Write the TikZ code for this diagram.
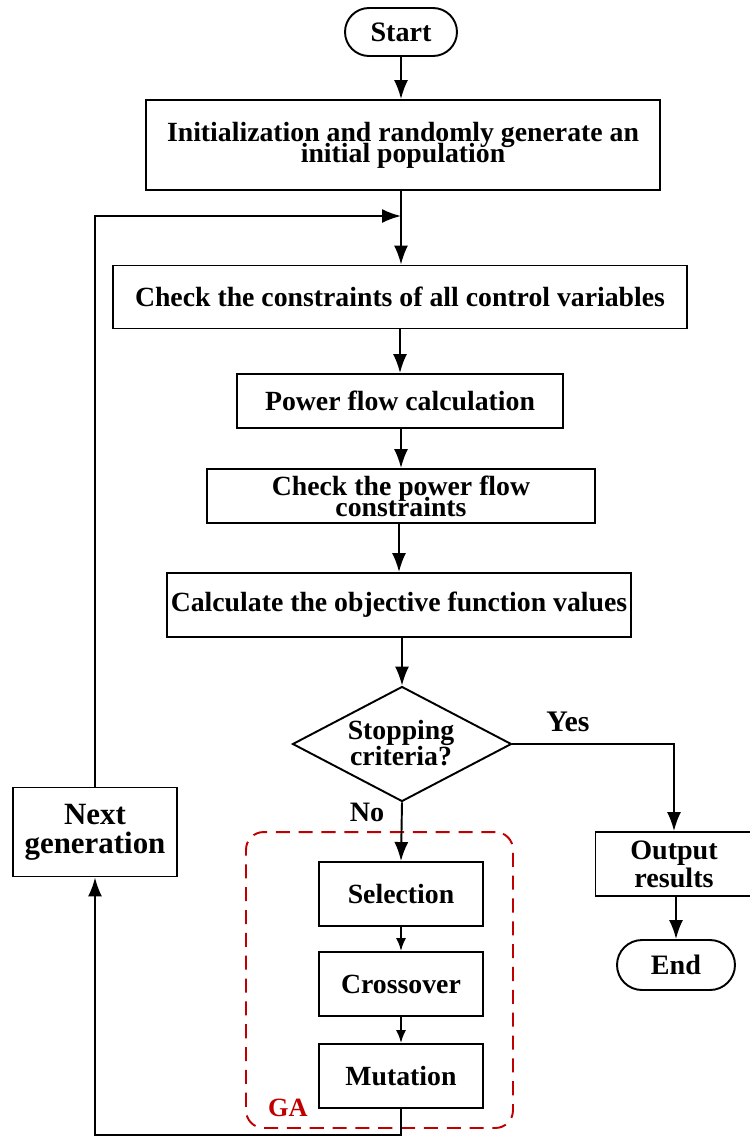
\documentclass[tikz,border=0pt]{standalone}
\usepackage{fontspec}
\setmainfont{Liberation Serif}
\usetikzlibrary{shapes.geometric,shapes.misc,arrows.meta}

\definecolor{GARed}{RGB}{192,0,0}

%% box text: lines are set tight, they may touch
\def\BoxFont{\bfseries\fontsize{15.8}{12}\selectfont\lineskiplimit=-30pt\relax}

\begin{document}
\begin{tikzpicture}[x=0.02cm,y=-0.02cm,
	line width=1.1pt,
	box/.style={draw, rectangle, inner sep=0pt, align=center, font=\BoxFont},
	pill/.style={draw, rounded rectangle, inner sep=0pt, font=\bfseries\fontsize{16}{16}\selectfont},
	decision/.style={draw, diamond, inner sep=0pt, minimum width=4.38cm, minimum height=2.3cm},
	bigtext/.style={align=center, font=\bfseries\fontsize{16}{16}\selectfont},
	flow/.style={-{Latex[length=0.38cm,width=0.28cm]}},
	smallflow/.style={-{Latex[length=0.26cm,width=0.2cm]}},
]

%% The canvas is given in pixel units of the original figure, 750 x 1137
\useasboundingbox (0,0) rectangle (750,1137);

%% main column
\node[pill, minimum width=2.24cm, minimum height=0.96cm] (start) at (401,32) {Start};
\node[box, minimum width=10.28cm, minimum height=1.8cm] (init) at (403,145) {Initialization and randomly generate an\\initial population};
\node[box, minimum width=11.5cm, minimum height=1.26cm] (chk) at (400,297) {Check the constraints of all control variables};
\node[box, minimum width=6.52cm, minimum height=1.08cm] (pf) at (400,401) {Power flow calculation};
\node[box, minimum width=7.76cm, minimum height=1.08cm] (cpf) at (401,496) {Check the power flow\\constraints};
\node[box, minimum width=9.28cm, minimum height=1.28cm] (obj) at (399,605) {Calculate the objective function values};

%% decision
\node[decision] (stop) at (402,744) {};
\node[bigtext, font=\bfseries\fontsize{15.8}{15.3}\selectfont] (stoptxt) at (401,743) {Stopping\\criteria?};
\node[bigtext, font=\bfseries\fontsize{17}{17}\selectfont] (yes) at (568,722) {Yes};
\node[bigtext] (no) at (367,812) {No};

%% right branch
\node[box, bigtext, minimum width=3.14cm, minimum height=1.28cm] (out) at (674,864) {Output\\results};
\node[pill, minimum width=2.36cm, minimum height=1.0cm] (end) at (676,965) {End};

%% GA block
\node[draw=GARed, dash pattern=on 8pt off 5pt, rounded corners=10pt, minimum width=5.34cm, minimum height=5.92cm] (ga) at (379.5,980) {};
\node[text=GARed, font=\bfseries\fontsize{15}{15}\selectfont] (galabel) at (288,1108) {GA};
\node[box, minimum width=3.28cm, minimum height=1.28cm] (sel) at (401,894) {Selection};
\node[box, minimum width=3.28cm, minimum height=1.28cm] (cro) at (401,984) {Crossover};
\node[box, minimum width=3.28cm, minimum height=1.28cm] (mut) at (401,1076) {Mutation};

%% loop back
\node[box, bigtext, font=\bfseries\fontsize{17.6}{16.5}\selectfont, minimum width=3.28cm, minimum height=1.78cm] (next) at (95,832) {Next\\generation};
\coordinate (merge) at (401,216);
\coordinate (bottom) at (401,1135);

%% connectors
\draw[flow] (start.south) -- (start.south |- init.north);
\draw[flow] (init.south -| merge) -- (chk.north -| merge);
\draw[flow] (chk.south -| pf) -- (pf);
\draw[flow] (pf.south -| cpf) -- (cpf);
\draw[flow] (cpf.south -| obj) -- (obj);
\draw[flow] (obj.south -| stop) -- (stop);
\draw[flow] (stop.east) -| (out.north);
\draw[flow] (out.south -| end) -- (end);
\draw[flow] (stop.south) -- (sel.north);
\draw[smallflow] (sel) -- (cro);
\draw[smallflow] (cro) -- (mut);
\draw[flow] (mut.south) -- (bottom) -| (next.south);
\draw[flow] (next.north) |- (merge);

\end{tikzpicture}
\end{document}
